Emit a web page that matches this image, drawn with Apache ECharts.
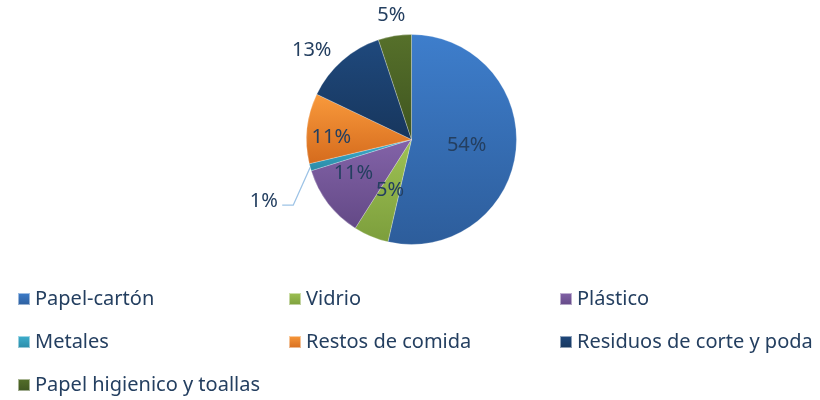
<!DOCTYPE html>
<html>
<head>
<meta charset="utf-8">
<script src="https://cdn.jsdelivr.net/npm/echarts@6/dist/echarts.min.js"></script>
<style>
  html, body { margin: 0; background: #fff; }
  #chart { width: 820px; height: 400px; }
</style>
</head>
<body>
<div id="chart"></div>
<script>
const categories = ['Papel-cartón', 'Vidrio', 'Plástico', 'Metales', 'Restos de comida', 'Residuos de corte y poda', 'Papel higienico y toallas'];
const shares = [53.6, 5.4, 11.2, 1.1, 10.8, 12.8, 5.1];
const labelInside = [true, true, true, false, true, false, false];

// gradient fills, top -> bottom
const colorTop = ['#3e7ecc', '#9fc254', '#8363a8', '#3fb0cf', '#f99a3c', '#1f497d', '#56702a'];
const colorBottom = ['#2d5d9b', '#7c9e3c', '#634986', '#2a8aa6', '#d56b1d', '#17365d', '#3f5520'];

// small label nudges to imitate the original placement
const nudge = {
  2: { dx: -14, dy: 0 },
  3: { dx: 2, dy: 29 },
  4: { dx: -25, dy: 4 },
  5: { dx: 3, dy: 2 },
  6: { dx: 17, dy: 0 }
};

const labelColor = '#243f60';
const chart = echarts.init(document.getElementById('chart'));

const data = categories.map((name, i) => ({
  name: name,
  value: shares[i],
  itemStyle: {
    color: new echarts.graphic.LinearGradient(0, 0, 0, 1, [
      { offset: 0, color: colorTop[i] },
      { offset: 1, color: colorBottom[i] }
    ])
  },
  label: labelInside[i]
    ? { position: 'inside' }
    : { position: 'outside' },
  labelLine: {
    show: i === 3,
    length: i === 3 ? 20 : (i === 5 ? 16 : 21),
    length2: i === 3 ? 12 : 0
  }
}));

// elbow leader line for the small slice: down from the slice edge, then left to the label
function layoutLabel(p) {
  const n = nudge[p.dataIndex] || {};
  if (p.dataIndex === 3 && p.labelLinePoints) {
    const a = p.labelLinePoints[0];
    const by = a[1] + 38;
    return {
      dx: n.dx,
      dy: n.dy,
      labelLinePoints: [a, [a[0] - 17, by], [a[0] - 28, by]]
    };
  }
  return n;
}

chart.setOption({
  animation: false,
  legend: {
    left: 12,
    top: 283,
    width: 810,
    itemWidth: 12,
    itemHeight: 12,
    itemGap: 21,
    icon: 'rect',
    textStyle: {
      fontFamily: 'Noto Sans',
      fontSize: 20,
      color: labelColor,
      width: 232,
      lineHeight: 22
    },
    data: categories
  },
  series: [{
    type: 'pie',
    center: [411.5, 139.5],
    radius: 105,
    startAngle: 90,
    clockwise: true,
    avoidLabelOverlap: false,
    itemStyle: { borderColor: 'rgba(255,255,255,0.5)', borderWidth: 0.5 },
    label: {
      fontFamily: 'Noto Sans',
      fontSize: 20,
      color: labelColor,
      distanceToLabelLine: 3,
      formatter: p => Math.round(p.percent) + '%'
    },
    labelLine: {
      lineStyle: { color: '#9dc3e6', width: 1.3 },
      smooth: false
    },
    labelLayout: layoutLabel,
    emphasis: { disabled: true },
    data: data
  }]
});
</script>
</body>
</html>
